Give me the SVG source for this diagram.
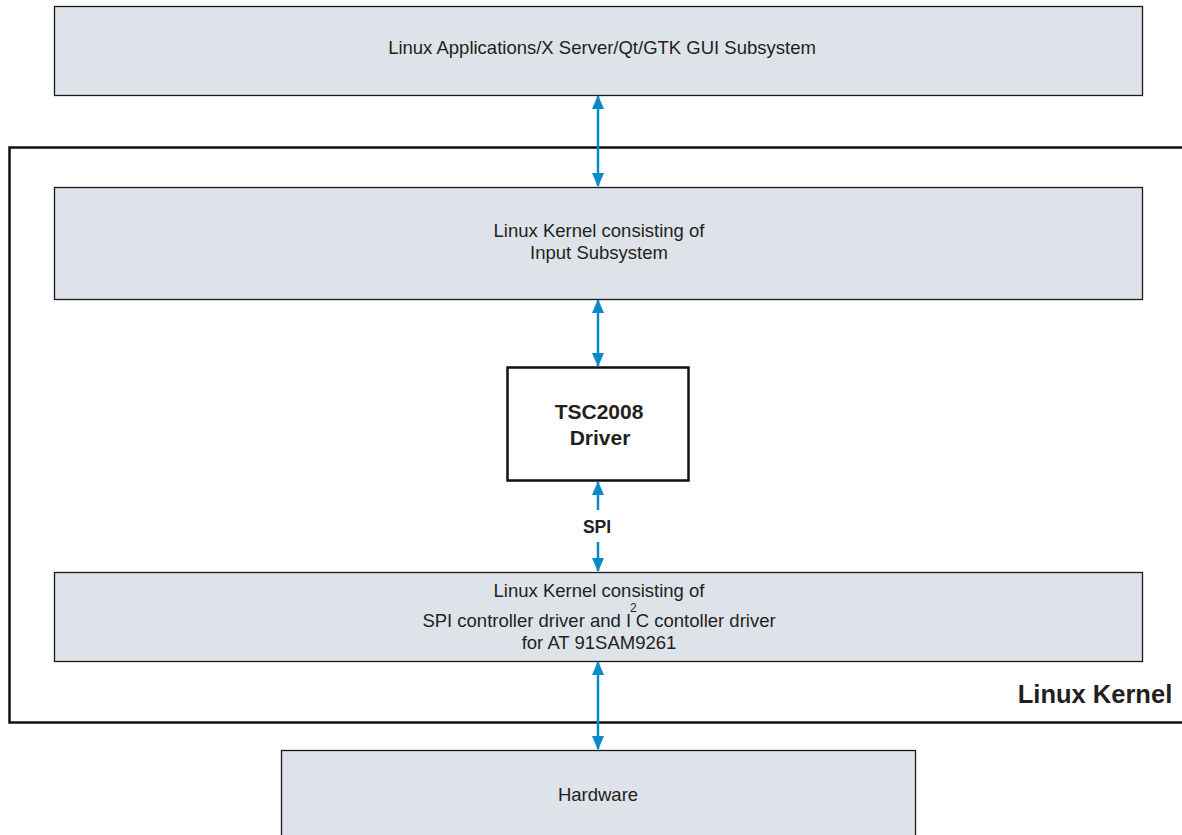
<svg xmlns="http://www.w3.org/2000/svg" width="1182" height="835" viewBox="0 0 1182 835">
<style>
.box{fill:#dee2e9;stroke:#1a1a1a;stroke-width:1.3}
.t{font-family:"Liberation Sans",Arial,sans-serif;font-size:18.5px;fill:#231f20;text-anchor:middle}
.b{font-family:"Liberation Sans",Arial,sans-serif;font-weight:bold;fill:#231f20;text-anchor:middle}
.c{stroke:#0a8ac9;stroke-width:2.5;fill:none}
</style>
<defs>
<marker id="ah" viewBox="0 0 14 12" refX="13" refY="6" markerUnits="userSpaceOnUse" markerWidth="14" markerHeight="12" orient="auto-start-reverse">
<path d="M0,0 L14,6 L0,12 Z" fill="#0a8ac9"/>
</marker>
</defs>
<rect width="1182" height="835" fill="#fff"/>
<g id="kernel-frame">
<path d="M1190,147.5 H9.5 V722.5 H1190" fill="none" stroke="#111" stroke-width="2.5"/>
<text class="b" x="1095" y="703" font-size="25.5">Linux Kernel</text>
</g>
<g id="apps">
<rect class="box" x="54.5" y="6.5" width="1088" height="89"/>
<text class="t" x="602" y="54">Linux Applications/X Server/Qt/GTK GUI Subsystem</text>
</g>
<g id="input">
<rect class="box" x="54.5" y="187.5" width="1088" height="112"/>
<text class="t" x="599" y="237">Linux Kernel consisting of</text>
<text class="t" x="599" y="259">Input Subsystem</text>
</g>
<g id="tsc">
<rect x="507.5" y="367.5" width="181" height="113" fill="#fff" stroke="#111" stroke-width="2.5"/>
<text class="b" x="599" y="419" font-size="21">TSC2008</text>
<text class="b" x="600" y="445" font-size="21">Driver</text>
</g>
<g id="spi-box">
<rect class="box" x="54.5" y="572.5" width="1088" height="89"/>
<text class="t" x="599" y="597">Linux Kernel consisting of</text>
<text class="t" x="599" y="627">SPI controller driver and I<tspan font-size="12" dy="-15" dx="-1">2</tspan><tspan dy="15" dx="-1">C contoller driver</tspan></text>
<text class="t" x="599" y="649">for AT 91SAM9261</text>
</g>
<g id="hardware">
<rect class="box" x="281.5" y="750.5" width="634" height="95"/>
<text class="t" x="598" y="801">Hardware</text>
</g>
<g id="connectors">
<line class="c" x1="598" y1="96" x2="598" y2="186" marker-start="url(#ah)" marker-end="url(#ah)"/>
<line class="c" x1="598" y1="300" x2="598" y2="366" marker-start="url(#ah)" marker-end="url(#ah)"/>
<line class="c" x1="598" y1="510" x2="598" y2="482" marker-end="url(#ah)"/>
<line class="c" x1="598" y1="542" x2="598" y2="571" marker-end="url(#ah)"/>
<line class="c" x1="598" y1="662" x2="598" y2="749" marker-start="url(#ah)" marker-end="url(#ah)"/>
<text class="b" x="597" y="533" font-size="17.5">SPI</text>
</g>
</svg>
